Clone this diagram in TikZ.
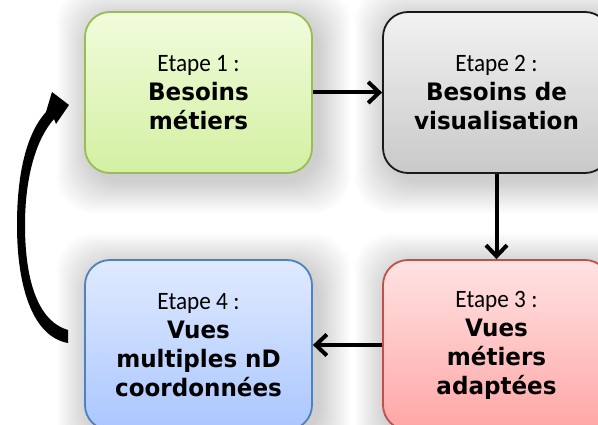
\documentclass[tikz,border=0pt]{standalone}
\usepackage{fontspec}
\newfontfamily\etapefont{Carlito}[FakeStretch=0.93]
\newfontfamily\boldfont{DejaVu Sans}[FakeStretch=0.96]
\usetikzlibrary{arrows.meta,backgrounds}
\definecolor{gA}{HTML}{F1FCDC}
\definecolor{gB}{HTML}{D3F0A2}
\definecolor{gL}{HTML}{9BBB59}
\definecolor{kA}{HTML}{F2F2F2}
\definecolor{kB}{HTML}{C9C9C9}
\definecolor{kL}{HTML}{1A1A1A}
\definecolor{rA}{HTML}{FFE3E3}
\definecolor{rB}{HTML}{FFA6A6}
\definecolor{rL}{HTML}{C0504D}
\definecolor{bA}{HTML}{E0EAFF}
\definecolor{bB}{HTML}{AAC7FF}
\definecolor{bL}{HTML}{4F81BD}
\tikzset{
  box/.style={rectangle, rounded corners=25pt, minimum width=227pt, inner sep=0pt,
    line width=1.8pt, align=center, font=\fontsize{24}{29}\selectfont},
  flow/.style={line width=4pt, -{Straight Barb[length=11pt,width=21pt]}},
}
\newcommand{\et}[1]{{\etapefont\fontsize{25}{29}\selectfont #1}}
\newcommand{\bt}[1]{{\boldfont\bfseries #1}}
\begin{document}
\begin{tikzpicture}[x=1pt,y=-1pt]
\useasboundingbox (0,0) rectangle (598,425);
\clip (0,0) rectangle (598,425);

\node[box, minimum height=161pt, draw=gL, top color=gA, bottom color=gB] (b1) at (198.5,92.5)
  {\et{Etape 1 :}\\\bt{Besoins}\\\bt{métiers}};
\node[box, minimum height=161pt, draw=kL, top color=kA, bottom color=kB] (b2) at (496.5,92.5)
  {\et{Etape 2 :}\\\bt{Besoins de}\\\bt{visualisation}};
\node[box, minimum height=170pt, draw=rL, top color=rA, bottom color=rB] (b3) at (496.5,345)
  {\et{Etape 3 :}\\\bt{Vues}\\\bt{métiers}\\\bt{adaptées}};
\node[box, minimum height=170pt, draw=bL, top color=bA, bottom color=bB] (b4) at (198.5,345)
  {\et{Etape 4 :}\\\bt{Vues}\\\bt{multiples nD}\\\bt{coordonnées}};

\begin{scope}[on background layer]
  \fill[white] (0,0) rectangle (598,425);
  \foreach \n in {b1,b2,b3,b4}{
    \foreach \s in {2,4,...,32}{
      \fill[black, opacity=0.013, rounded corners=36pt]
        ([shift={(-\s+5,-\s+7)}]\n.north west) rectangle ([shift={(\s+5,\s+7)}]\n.south east);
    }
  }
\end{scope}

\draw[flow] (b1.east) -- (b2.west);
\draw[flow] (b2.south) -- (b3.north);
\draw[flow] (b3.west) -- (b4.east);

\fill[black]
  (68,343) .. controls (34,337) and (17,290) .. (17,225)
  .. controls (17,172) and (27,133) .. (46,112)
  -- (52,92) -- (69,105) -- (56,124) -- (54,119)
  .. controls (37,138) and (25,175) .. (25,225)
  .. controls (25,285) and (40,322) .. (68,330) -- cycle;
\end{tikzpicture}
\end{document}
